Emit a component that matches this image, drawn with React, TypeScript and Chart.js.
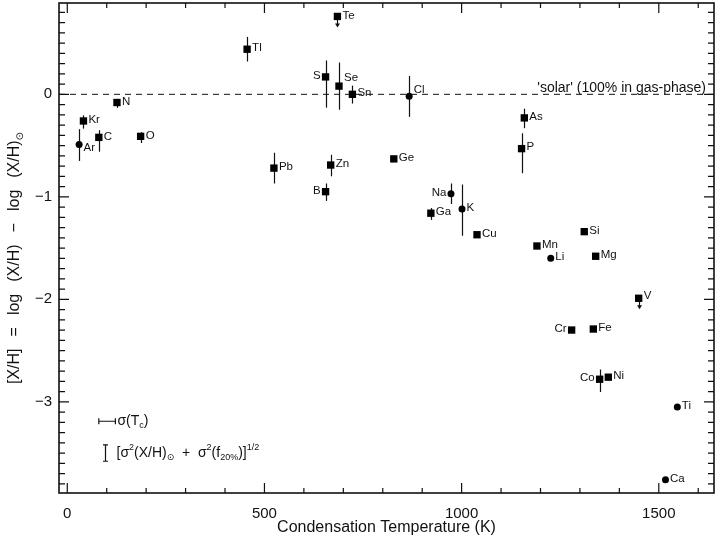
import React, { useEffect, useRef } from 'react';
import { Chart, registerables } from 'chart.js';

Chart.register(...registerables);

// ---------- data ----------
const elements = ['Te', 'Tl', 'S', 'Se', 'Sn', 'N', 'Kr', 'C', 'O', 'Ar', 'Pb', 'Zn', 'B', 'Cl', 'As', 'P', 'Ge', 'Na', 'K', 'Ga', 'Cu', 'Mn', 'Li', 'Si', 'Mg', 'V', 'Cr', 'Fe', 'Co', 'Ni', 'Ti', 'Ca'];
const condTemp = [685, 456, 655, 689, 723, 126, 41, 80, 186, 30, 524, 668, 655, 867, 1159, 1152, 828, 973, 1001, 922, 1039, 1191, 1226, 1311, 1340, 1449, 1279, 1334, 1350, 1372, 1547, 1517];
const depletion = [0.76, 0.44, 0.17, 0.08, 0.0, -0.08, -0.26, -0.42, -0.41, -0.49, -0.72, -0.69, -0.95, -0.02, -0.23, -0.53, -0.63, -0.97, -1.12, -1.16, -1.37, -1.48, -1.6, -1.34, -1.58, -1.99, -2.3, -2.29, -2.78, -2.76, -3.05, -3.76];
const errUp = [0, 0.12, 0.16, 0.23, 0.085, 0.036, 0.055, 0.07, 0.04, 0.15, 0.15, 0.1, 0.08, 0.2, 0.09, 0.15, 0, 0.1, 0.24, 0.05, 0, 0, 0, 0, 0, 0, 0, 0, 0.095, 0, 0, 0];
const errDown = [0, 0.12, 0.3, 0.23, 0.09, 0.052, 0.075, 0.14, 0.065, 0.16, 0.15, 0.11, 0.09, 0.2, 0.1, 0.24, 0, 0.1, 0.26, 0.065, 0, 0, 0, 0, 0, 0, 0, 0, 0.125, 0, 0, 0];
const circleElements = ['Ar', 'Cl', 'Na', 'K', 'Li', 'Ti', 'Ca'];
const upperLimits = ['Te', 'V'];
const leftLabelled = ['S', 'B', 'Na', 'Cr', 'Co'];
const xTickValues = [0, 500, 1000, 1500];
const yTickValues = [-3, -2, -1, 0];
const solarLevel = 0;
const solarText = "'solar' (100% in gas-phase)";
const xTitle = 'Condensation Temperature (K)';

// ---------- styling ----------
const FONT = '"Liberation Sans", Arial, "DejaVu Sans", sans-serif';
const labelShift: Record<string, [number, number]> = {
  Se: [0, -8], Cl: [0, -7], Ar: [0, 3], P: [0, -2], V: [0, -2],
};

type Part = { t?: string; k?: 'sub' | 'sup'; gap?: number };

function drawRich(ctx: CanvasRenderingContext2D, parts: Part[], x: number, y: number, size: number, align: 'left' | 'center') {
  const small = Math.round(size * 0.64);
  const widths = parts.map((p) => {
    if (p.gap) return p.gap;
    ctx.font = `${p.k ? small : size}px ${FONT}`;
    return ctx.measureText(p.t || '').width;
  });
  const total = widths.reduce((a, b) => a + b, 0);
  let cx = align === 'center' ? x - total / 2 : x;
  ctx.textAlign = 'left';
  ctx.textBaseline = 'middle';
  parts.forEach((p, i) => {
    if (!p.gap) {
      ctx.font = `${p.k ? small : size}px ${FONT}`;
      const dy = p.k === 'sub' ? size * 0.32 : p.k === 'sup' ? -size * 0.38 : 0;
      ctx.fillText(p.t || '', cx, y + dy);
    }
    cx += widths[i];
  });
}

const zeroPad = (s: any) => {
  s.paddingTop = 0;
  s.paddingBottom = 0;
  s.paddingLeft = 0;
  s.paddingRight = 0;
};

const overlay = {
  id: 'overlay',
  beforeDatasetsDraw(chart: any) {
    const { ctx, chartArea: a, scales } = chart;
    const x = scales.x, y = scales.y;
    ctx.save();
    ctx.strokeStyle = '#111';
    ctx.lineWidth = 1;
    ctx.setLineDash([6, 5]);
    const y0 = y.getPixelForValue(solarLevel);
    ctx.beginPath();
    ctx.moveTo(a.left, y0);
    ctx.lineTo(a.right, y0);
    ctx.stroke();
    ctx.setLineDash([]);
    ctx.lineWidth = 1.2;
    elements.forEach((el, i) => {
      const px = Math.round(x.getPixelForValue(condTemp[i])) + 0.5;
      if (errUp[i] || errDown[i]) {
        ctx.beginPath();
        ctx.moveTo(px, y.getPixelForValue(depletion[i] + errUp[i]));
        ctx.lineTo(px, y.getPixelForValue(depletion[i] - errDown[i]));
        ctx.stroke();
      }
      if (upperLimits.includes(el)) {
        const py = y.getPixelForValue(depletion[i]);
        ctx.beginPath();
        ctx.moveTo(px, py);
        ctx.lineTo(px, py + 8);
        ctx.stroke();
        ctx.beginPath();
        ctx.moveTo(px - 2.5, py + 7);
        ctx.lineTo(px + 2.5, py + 7);
        ctx.lineTo(px, py + 11);
        ctx.closePath();
        ctx.fillStyle = '#111';
        ctx.fill();
      }
    });
    ctx.restore();
  },
  afterDraw(chart: any) {
    const { ctx, chartArea: a, scales } = chart;
    const x = scales.x, y = scales.y;
    ctx.save();
    ctx.strokeStyle = '#111';
    ctx.fillStyle = '#111';
    // frame
    ctx.lineWidth = 1.6;
    ctx.strokeRect(a.left, a.top, a.right - a.left, a.bottom - a.top);
    // inward ticks
    ctx.lineWidth = 1.2;
    ctx.beginPath();
    for (let t = 0; t <= 1600; t += 100) {
      const px = x.getPixelForValue(t);
      const len = t % 500 === 0 ? 10 : 5;
      ctx.moveTo(px, a.bottom); ctx.lineTo(px, a.bottom - len);
      ctx.moveTo(px, a.top); ctx.lineTo(px, a.top + len);
    }
    for (let k = -38; k <= 8; k++) {
      const py = y.getPixelForValue(k / 10);
      const len = k % 10 === 0 ? 10 : 6;
      ctx.moveTo(a.left, py); ctx.lineTo(a.left + len, py);
      ctx.moveTo(a.right, py); ctx.lineTo(a.right - len, py);
    }
    ctx.stroke();

    // element labels
    ctx.font = `11.5px ${FONT}`;
    ctx.textBaseline = 'middle';
    elements.forEach((el, i) => {
      const px = x.getPixelForValue(condTemp[i]);
      const py = y.getPixelForValue(depletion[i]);
      const isCircle = circleElements.includes(el);
      const [sx, sy] = labelShift[el] || [0, -1];
      if (leftLabelled.includes(el)) {
        ctx.textAlign = 'right';
        ctx.fillText(el, px - (isCircle ? 4.5 : 5) + sx, py + sy);
      } else {
        ctx.textAlign = 'left';
        ctx.fillText(el, px + (isCircle ? 4.5 : 5) + sx, py + sy);
      }
    });

    // solar label
    ctx.font = `14px ${FONT}`;
    ctx.textAlign = 'right';
    ctx.textBaseline = 'alphabetic';
    ctx.fillText(solarText, a.right - 8, y.getPixelForValue(solarLevel) - 2);

    // legend key: horizontal sigma(Tc) bar
    const hx0 = x.getPixelForValue(80), hx1 = x.getPixelForValue(122), hy = y.getPixelForValue(-3.19);
    ctx.lineWidth = 1.2;
    ctx.beginPath();
    ctx.moveTo(hx0, hy); ctx.lineTo(hx1, hy);
    ctx.moveTo(hx0, hy - 3); ctx.lineTo(hx0, hy + 3);
    ctx.moveTo(hx1, hy - 3); ctx.lineTo(hx1, hy + 3);
    ctx.stroke();
    drawRich(ctx, [{ t: 'σ(T' }, { t: 'c', k: 'sub' }, { t: ')' }], hx1 + 2, hy, 14, 'left');
    // vertical bar
    const vx = Math.round(x.getPixelForValue(96)) + 0.5, vy0 = y.getPixelForValue(-3.42), vy1 = y.getPixelForValue(-3.58);
    ctx.beginPath();
    ctx.moveTo(vx, vy0); ctx.lineTo(vx, vy1);
    ctx.moveTo(vx - 2.5, vy0); ctx.lineTo(vx + 2.5, vy0);
    ctx.moveTo(vx - 2.5, vy1); ctx.lineTo(vx + 2.5, vy1);
    ctx.stroke();
    drawRich(ctx, [
      { t: '[σ' }, { t: '2', k: 'sup' }, { t: '(X/H)' }, { t: '⊙', k: 'sub' },
      { t: '  +  σ' }, { t: '2', k: 'sup' }, { t: '(f' }, { t: '20%', k: 'sub' }, { t: ')]' }, { t: '1/2', k: 'sup' },
    ], vx + 11, (vy0 + vy1) / 2, 14, 'left');

    // y-axis title
    ctx.translate(15, 258);
    ctx.rotate(-Math.PI / 2);
    drawRich(ctx, [
      { t: '[X/H]' }, { gap: 12 }, { t: '=' }, { gap: 12 }, { t: 'log' }, { gap: 12 }, { t: '(X/H)' }, { gap: 12 },
      { t: '−' }, { gap: 12 }, { t: 'log' }, { gap: 12 }, { t: '(X/H)' }, { t: '⊙', k: 'sub' },
    ], 0, 0, 16, 'center');
    ctx.restore();
  },
};

export default function App() {
  const ref = useRef<HTMLCanvasElement | null>(null);
  useEffect(() => {
    if (!ref.current) return;
    const squarePts: { x: number; y: number }[] = [];
    const circlePts: { x: number; y: number }[] = [];
    elements.forEach((el, i) => {
      const pt = { x: condTemp[i], y: depletion[i] };
      (circleElements.includes(el) ? circlePts : squarePts).push(pt);
    });
    const tickFont = { family: FONT, size: 15 };
    const chart = new Chart(ref.current, {
      type: 'scatter',
      data: {
        datasets: [
          { label: 'rect', data: squarePts, pointStyle: 'rect', pointRadius: 5.2, backgroundColor: '#000', borderWidth: 0 },
          { label: 'circle', data: circlePts, pointStyle: 'circle', pointRadius: 3.5, backgroundColor: '#000', borderWidth: 0 },
        ],
      },
      options: {
        responsive: false,
        animation: false,
        events: [],
        layout: { autoPadding: false, padding: { top: 3, right: 1, left: 0, bottom: 0 } },
        plugins: { legend: { display: false }, tooltip: { enabled: false } },
        scales: {
          x: {
            type: 'linear',
            min: -21,
            max: 1640,
            grid: { display: false, drawTicks: false },
            border: { display: false },
            afterBuildTicks: (s: any) => { s.ticks = xTickValues.map((v) => ({ value: v })); },
            afterFit: (s: any) => { s.height = 49; zeroPad(s); },
            ticks: { autoSkip: false, maxRotation: 0, padding: 12, color: '#111', font: tickFont, callback: (v: any) => String(v) },
            title: { display: true, text: xTitle, color: '#111', font: { family: FONT, size: 16 }, padding: { top: 0, bottom: 5 } },
          },
          y: {
            type: 'linear',
            min: -3.89,
            max: 0.891,
            grid: { display: false, drawTicks: false },
            border: { display: false },
            afterBuildTicks: (s: any) => { s.ticks = yTickValues.map((v) => ({ value: v })); },
            afterFit: (s: any) => { s.width = 59; zeroPad(s); },
            ticks: { autoSkip: false, padding: 7, color: '#111', font: tickFont, callback: (v: any) => (v < 0 ? '−' + Math.abs(v) : String(v)) },
          },
        },
      },
      plugins: [overlay],
    } as any);
    return () => chart.destroy();
  }, []);
  return (
    <div style={{ position: 'absolute', left: 0, top: 0, width: 715, height: 542, background: '#fff' }}>
      <canvas ref={ref} width={715} height={542} style={{ display: 'block' }} />
    </div>
  );
}
